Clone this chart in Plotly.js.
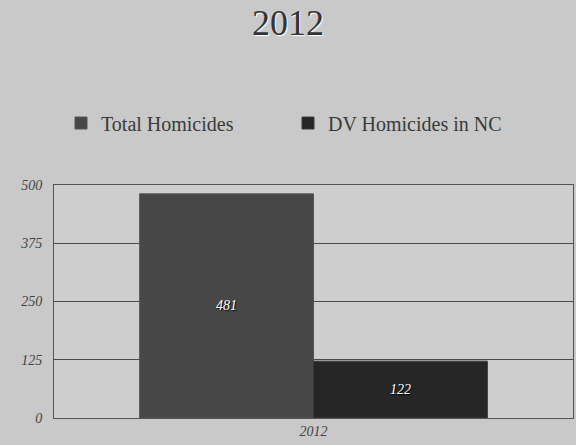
<!DOCTYPE html>
<html>
<head>
<meta charset="utf-8">
<script src="https://cdn.plot.ly/plotly-3.0.1.min.js"></script>
<style>html,body{margin:0;padding:0;background:#c9c9c9;}#chart{width:576px;height:445px;}</style>
</head>
<body>
<div id="chart"></div>
<script>
const categories = ["2012"];
const seriesNames = ["Total Homicides", "DV Homicides in NC"];
const totalHomicides = [481];
const dvHomicides = [122];
const yTicks = [0, 125, 250, 375, 500];

const serif = "Liberation Serif, DejaVu Serif, serif";
const labelFont = {family: serif, size: 14, color: "#ffffff", style: "italic", shadow: "1px 1px 1px #000"};

const traces = [
  {type: "bar", name: seriesNames[0], x: categories, y: totalHomicides,
   marker: {color: "#474747", line: {color: "#555555", width: 1}},
   text: totalHomicides.map(String), textposition: "inside", insidetextanchor: "middle",
   textfont: labelFont, hoverinfo: "none"},
  {type: "bar", name: seriesNames[1], x: categories, y: dvHomicides,
   marker: {color: "#262626", line: {color: "#3a3a3a", width: 1}},
   text: dvHomicides.map(String), textposition: "inside", insidetextanchor: "middle",
   textfont: labelFont, hoverinfo: "none"}
];

const layout = {
  width: 576, height: 445,
  margin: {l: 54, r: 3, t: 185, b: 27},
  paper_bgcolor: "#c9c9c9",
  plot_bgcolor: "#cecece",
  barmode: "group", bargap: 0.33, bargroupgap: 0,
  title: {text: "2012", x: 0.5, xanchor: "center", y: 0.95, yanchor: "middle",
          font: {family: serif, size: 36, color: "#333333", shadow: "1px 1px 1px #ffffff"}},
  showlegend: true,
  legend: {orientation: "h", x: 0.0135, xanchor: "left", y: 1.266, yanchor: "middle",
           font: {family: serif, size: 20, color: "#3a3a3a"},
           itemwidth: 30, bgcolor: "rgba(0,0,0,0)", entrywidth: 182, entrywidthmode: "pixels"},
  xaxis: {type: "category", showgrid: false, zeroline: false, showline: true, mirror: true,
          linecolor: "#555555", linewidth: 1, ticks: "",
          tickfont: {family: serif, size: 14, color: "#444444", style: "italic"}},
  yaxis: {range: [0, 500], tickvals: yTicks, ticktext: yTicks.map(String),
          showgrid: true, gridcolor: "#4a4a4a", gridwidth: 1, zeroline: false,
          showline: true, mirror: true, linecolor: "#555555", linewidth: 1, ticks: "",
          ticklabelstandoff: 8,
          tickfont: {family: serif, size: 14, color: "#444444", style: "italic"}}
};

Plotly.newPlot("chart", traces, layout, {staticPlot: true, displayModeBar: false});
</script>
</body>
</html>
